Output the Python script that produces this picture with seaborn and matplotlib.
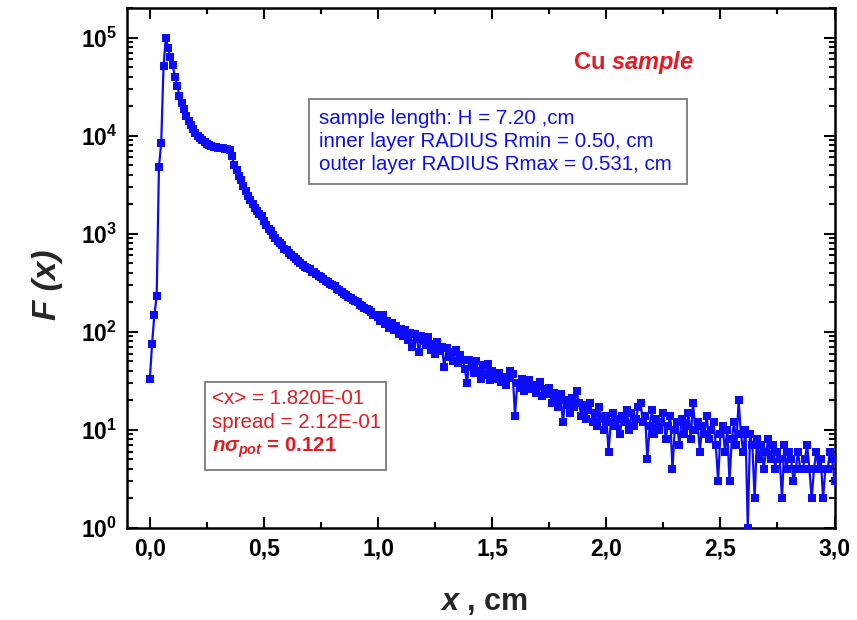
import numpy as np
import pandas as pd
import matplotlib
matplotlib.use("Agg")
import matplotlib.pyplot as plt
import seaborn as sns
from matplotlib.ticker import MultipleLocator, LogLocator, NullFormatter
from matplotlib.patches import Rectangle

# ---------------- data ----------------
x_step = 0.01  # cm, sampling step of the histogram
F_rise = [33, 76, 150, 230, 4800, 8500, 51000, 100000, 78000, 63000]
F_peak_decay = [52000, 40000, 32000, 25500, 21500, 18500, 16000, 14200, 12800, 11600,
                10700, 10000, 9500, 9000, 8600, 8300, 8050, 7850, 7700, 7600]
F_shoulder = [7500, 7450, 7400, 7300, 7250, 7150, 6200, 5000, 4500, 3900,
              3500, 3050, 2700, 2450, 2200, 2000, 1850, 1720, 1600, 1500]
F_decay = [1350, 1230, 1130, 1060, 960, 900, 850, 800, 770, 700,
           680, 640, 610, 585, 550, 530, 500, 485, 460, 445,
           435, 410, 405, 385, 370, 360, 345, 330, 320, 310,
           300, 290, 270, 268, 255, 245, 240, 228, 222, 210,
           205, 200, 188, 184, 175, 170, 165, 158, 150, 148]
F_mid = [142, 130, 150, 120, 128, 110, 124, 104, 115, 96,
         108, 90, 104, 82, 98, 70, 96, 84, 62, 90,
         80, 74, 88, 66, 76, 60, 78, 64, 70, 44,
         68, 56, 62, 50, 66, 48, 58, 52, 42, 30,
         52, 44, 38, 50, 40, 33, 46, 36, 47, 32]
F_tail1 = [40, 36, 33, 38, 31, 35, 29, 34, 40, 37,
           14, 30, 27, 33, 25, 30, 32, 26, 29, 24,
           28, 31, 22, 26, 23, 27, 19, 24, 21, 17,
           23, 12, 20, 18, 15, 21, 17, 25, 19, 14,
           18, 13, 16, 19, 12, 15, 11, 17, 13, 10]
F_tail2 = [14, 6, 12, 15, 11, 13, 9, 14, 12, 16,
           10, 15, 11, 13, 17, 19, 12, 14, 5, 11,
           16, 9, 13, 10, 12, 15, 8, 11, 14, 4,
           10, 12, 7, 13, 9, 11, 15, 8, 19, 10,
           12, 6, 11, 9, 14, 8, 10, 12, 7, 3]
F_tail3 = [9, 11, 6, 10, 3, 8, 12, 7, 20, 9,
           6, 10, 1, 9, 7, 2, 8, 5, 7, 4,
           6, 8, 5, 7, 4, 6, 5, 2, 7, 4,
           6, 5, 3, 4, 6, 4, 4, 5, 7, 4,
           2, 4, 6, 4, 5, 2, 4, 4, 6, 5,
           3]

F_values = F_rise + F_peak_decay + F_shoulder + F_decay + F_mid + F_tail1 + F_tail2 + F_tail3
x_values = np.round(np.arange(len(F_values)) * x_step, 2)

xticks = [0.0, 0.5, 1.0, 1.5, 2.0, 2.5, 3.0]
xtick_labels = ["0,0", "0,5", "1,0", "1,5", "2,0", "2,5", "3,0"]
yticks = [1, 10, 100, 1000, 10000, 100000]
ytick_labels = [r"$10^{0}$", r"$10^{1}$", r"$10^{2}$", r"$10^{3}$", r"$10^{4}$", r"$10^{5}$"]

info_lines = ["sample length: H = 7.20 ,cm",
              "inner layer RADIUS Rmin = 0.50, cm",
              "outer layer RADIUS Rmax = 0.531, cm"]
stat_lines = ["<x> = 1.820E-01", "spread = 2.12E-01", r"$n\sigma_{pot}$ = 0.121"]

# ---------------- style ----------------
sns.set_style("ticks")
plt.rcParams["font.family"] = ["Liberation Sans", "DejaVu Sans"]
plt.rcParams["mathtext.fontset"] = "custom"
plt.rcParams["mathtext.rm"] = "Liberation Sans:bold"
plt.rcParams["mathtext.bf"] = "Liberation Sans:bold"
plt.rcParams["mathtext.it"] = "Liberation Sans:italic:bold"
plt.rcParams["mathtext.sf"] = "Liberation Sans:bold"

BLUE = "#0d0df5"
RED = "#e31b23"

W, H = 857, 620
def fx(px):
    return px / W
def fy(py):
    return 1 - py / H

fig = plt.figure(figsize=(W / 100, H / 100), dpi=100)
ax = fig.add_axes([fx(127), fy(528), fx(834.5) - fx(127), fy(8) - fy(528)])

df = pd.DataFrame({"x": x_values, "F": F_values})
sns.lineplot(data=df, x="x", y="F", ax=ax, color=BLUE, marker="s",
             markersize=5.6, markeredgewidth=0, linewidth=1.6, zorder=3)

ax.set_yscale("log")
ax.set_ylim(1, 2.0e5)
ax.set_xlim(-0.1, 3.0)

ax.set_xticks(xticks, labels=xtick_labels)
ax.xaxis.set_minor_locator(MultipleLocator(0.25))
ax.set_yticks(yticks, labels=ytick_labels)
ax.yaxis.set_minor_locator(LogLocator(base=10, subs=np.arange(2, 10)))
ax.yaxis.set_minor_formatter(NullFormatter())

ax.tick_params(which="both", direction="in", top=True, right=True, width=1.5, colors="black")
ax.tick_params(which="major", length=8, labelsize=16.5, pad=7)
ax.tick_params(which="minor", length=4.5)
for lab in ax.get_xticklabels():
    lab.set_fontweight("bold")
for sp in ax.spines.values():
    sp.set_linewidth(1.8)
    sp.set_color("black")

ax.set_xlabel(r"$x$ , cm", fontsize=22, fontweight="bold")
ax.xaxis.set_label_coords(0.505, -0.114)
ax.set_ylabel("F (x)", fontsize=24, fontweight="bold", fontstyle="italic")
ax.yaxis.set_label_coords(-0.09, 0.467)

# Cu sample title
fig.text(fx(573), fy(63), r"Cu $sample$", color=RED, fontsize=17, fontweight="bold",
         ha="left", va="center")

# info box (blue)
fig.add_artist(Rectangle((fx(309), fy(184)), fx(687) - fx(309), fy(99) - fy(184),
                         transform=fig.transFigure, facecolor="white",
                         edgecolor="#7a7a7a", linewidth=1.3, zorder=4))
for i, line in enumerate(info_lines):
    fig.text(fx(319), fy(118 + 23.5 * i), line, color=BLUE, fontsize=14.8,
             ha="left", va="center", zorder=5)

# statistics box (red)
fig.add_artist(Rectangle((fx(205), fy(470)), fx(386) - fx(205), fy(382) - fy(470),
                         transform=fig.transFigure, facecolor="white",
                         edgecolor="#7a7a7a", linewidth=1.3, zorder=4))
for i, line in enumerate(stat_lines):
    fig.text(fx(212), fy(398 + 25 * i), line, color=RED, fontsize=14.8,
             fontweight="bold" if i == 2 else "normal",
             ha="left", va="center", zorder=5)

fig.savefig("out.png", dpi=100)
